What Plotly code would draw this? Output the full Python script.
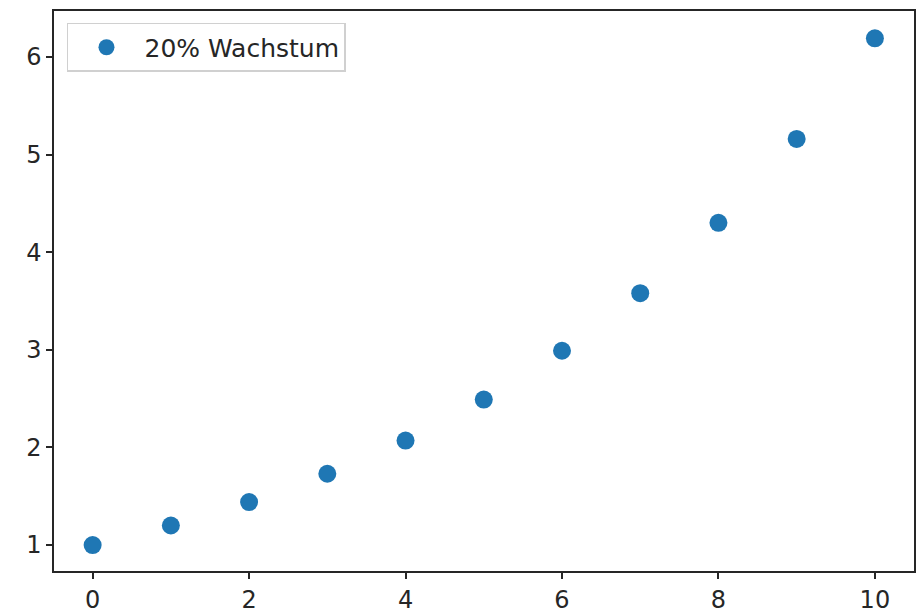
import plotly.graph_objects as go

x_vals = [0, 1, 2, 3, 4, 5, 6, 7, 8, 9, 10]
y_vals = [1.0, 1.2, 1.44, 1.73, 2.07, 2.49, 2.99, 3.58, 4.30, 5.16, 6.19]
series_name = "20% Wachstum"
x_ticks = [0, 2, 4, 6, 8, 10]
y_ticks = [1, 2, 3, 4, 5, 6]

fig = go.Figure()
fig.add_trace(go.Scatter(
    x=x_vals, y=y_vals, mode="markers", name=series_name,
    marker=dict(color="#1f77b4", size=18),
    showlegend=True,
))

axis_common = dict(
    showline=True, linecolor="#262626", linewidth=1.5, mirror=True,
    showgrid=False, zeroline=False,
    ticks="outside", ticklen=6, tickwidth=1.5, tickcolor="#262626",
    tickfont=dict(family="DejaVu Sans", size=24, color="#262626"),
    automargin=False,
)

fig.update_layout(
    width=916, height=612,
    margin=dict(l=54, r=2, t=11, b=41),
    paper_bgcolor="white", plot_bgcolor="white",
    xaxis=dict(range=[-0.494, 10.5], tickvals=x_ticks, ticktext=[str(t) for t in x_ticks], **axis_common),
    yaxis=dict(range=[0.734, 6.47], tickvals=y_ticks, ticktext=[str(t) for t in y_ticks], **axis_common),
    legend=dict(
        x=0.0151, y=0.9786, xanchor="left", yanchor="top",
        bgcolor="rgba(255,255,255,0.8)", bordercolor="#d0d0d0", borderwidth=1.5,
        font=dict(family="DejaVu Sans", size=25, color="#262626"),
        itemsizing="trace", itemwidth=66,
    ),
    showlegend=True,
)

fig.write_html(
    "out.html",
    config={"displayModeBar": False},
    post_script="document.body.style.margin='0';document.body.style.overflow='hidden';",
)
